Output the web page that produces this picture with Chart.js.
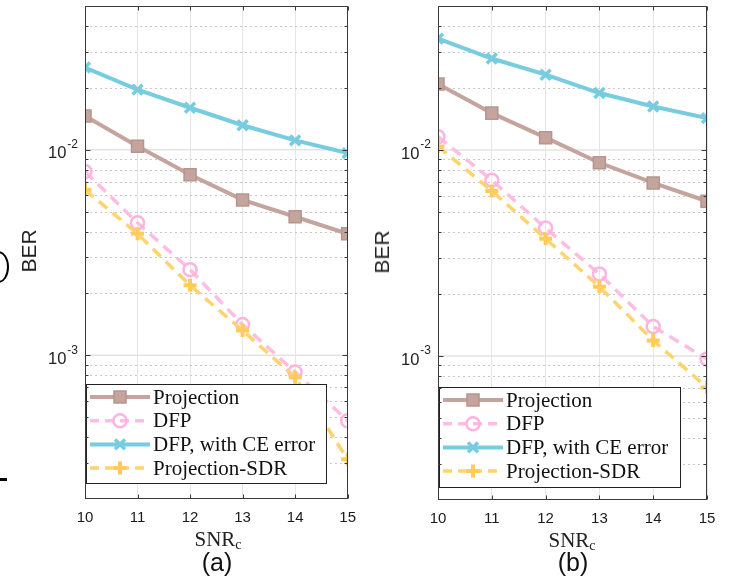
<!DOCTYPE html>
<html>
<head>
<meta charset="utf-8">
<script src="https://cdn.jsdelivr.net/npm/chart.js@4.4.1/dist/chart.umd.min.js"></script>
<style>
  body { margin: 0; background: #fff; width: 731px; height: 583px; position: relative; overflow: hidden; }
  canvas { position: absolute; top: 0; }
  .ber { position: absolute; font: 21px "Liberation Sans", Arial, sans-serif; color: #222;
         transform: translate(-50%, -50%) rotate(-90deg); white-space: nowrap; }
  .snr { position: absolute; font: 21px "Liberation Serif", "Times New Roman", serif; color: #222;
         transform: translate(-50%, -50%); white-space: nowrap; }
  .snr sub { font-size: 14px; vertical-align: -3px; }
  .tag { position: absolute; font: 25px "Liberation Sans", Arial, sans-serif; color: #111;
         transform: translate(-50%, -50%); }
  .crop { position: absolute; background: #000; }
</style>
</head>
<body>
<canvas id="chart-a" width="366" height="583" style="left:0"></canvas>
<canvas id="chart-b" width="365" height="583" style="left:366px"></canvas>

<div class="ber" style="left:29px; top:251px">BER</div>
<div class="ber" style="left:382px; top:252px">BER</div>
<div class="snr" style="left:218px; top:540px">SNR<sub>c</sub></div>
<div class="snr" style="left:572px; top:541px">SNR<sub>c</sub></div>
<div class="tag" style="left:217px; top:562px">(a)</div>
<div class="tag" style="left:573px; top:562px">(b)</div>

<!-- bits of the neighbouring figure cut off at the left edge -->
<div style="position:absolute; left:-12px; top:251px; width:17px; height:28px; border:2.5px solid #000; border-radius:50%;"></div>
<div class="crop" style="left:0; top:478px; width:7px; height:3px"></div>

<script>
const snrValues = [10, 11, 12, 13, 14, 15];

// panel (a)
const projectionA = [0.0146, 0.0104, 0.00755, 0.0057, 0.00472, 0.0039];
const dfpA = [0.00783, 0.00441, 0.00261, 0.00141, 0.000829, 0.00048];
const dfpCeA = [0.0251, 0.0196, 0.0160, 0.01315, 0.0111, 0.00963];
const sdrA = [0.00638, 0.0039, 0.00219, 0.00132, 0.000782, 0.000312];

// panel (b)
const projectionB = [0.0209, 0.0151, 0.01148, 0.00867, 0.00692, 0.00564];
const dfpB = [0.0116, 0.00714, 0.00418, 0.0025, 0.00139, 0.000967];
const dfpCeB = [0.0347, 0.0278, 0.0232, 0.0189, 0.01626, 0.01428];
const sdrB = [0.0104, 0.00633, 0.00371, 0.00217, 0.00119, 0.000703];

const seriesNames = ['Projection', 'DFP', 'DFP, with CE error', 'Projection-SDR'];

const yMin = 2e-4, yMax = 5e-2;
const yMajorValues = [1e-3, 1e-2];
const yMajorExponents = ['-3', '-2'];
const yMinorValues = [3e-4, 4e-4, 5e-4, 6e-4, 7e-4, 8e-4, 9e-4,
  2e-3, 3e-3, 4e-3, 5e-3, 6e-3, 7e-3, 8e-3, 9e-3, 2e-2, 3e-2, 4e-2];

const toPoints = (values) => values.map((v, i) => ({ x: snrValues[i], y: v }));

const makeDatasets = (proj, dfp, dfpCe, sdr) => [
  {
    label: seriesNames[0], data: toPoints(proj), order: 4,
    borderColor: '#c4a59e', borderWidth: 4,
    pointStyle: 'rect', pointRadius: 8.5, pointBorderWidth: 1.5,
    pointBackgroundColor: '#c4a59e', pointBorderColor: '#b5958e'
  },
  {
    label: seriesNames[1], data: toPoints(dfp), order: 3,
    borderColor: '#ffbde3', borderWidth: 3.5, borderDash: [11, 7],
    pointStyle: 'circle', pointRadius: 6.5, pointBorderWidth: 2.5,
    pointBackgroundColor: 'rgba(0,0,0,0)', pointBorderColor: '#ffb3df'
  },
  {
    label: seriesNames[2], data: toPoints(dfpCe), order: 2,
    borderColor: '#78cce0', borderWidth: 4,
    pointStyle: 'crossRot', pointRadius: 7, pointBorderWidth: 3.5,
    pointBackgroundColor: '#78cce0', pointBorderColor: '#78cce0'
  },
  {
    label: seriesNames[3], data: toPoints(sdr), order: 1,
    borderColor: '#ffd36e', borderWidth: 3.5, borderDash: [11, 7],
    pointStyle: 'cross', pointRadius: 6.5, pointBorderWidth: 4,
    pointBackgroundColor: '#ffd36e', pointBorderColor: '#ffcc5c'
  }
];

const drawMarker = (ctx, ds, x, y) => {
  ctx.setLineDash([]);
  ctx.fillStyle = ds.pointBackgroundColor;
  ctx.strokeStyle = ds.pointBorderColor;
  ctx.lineWidth = ds.pointBorderWidth;
  Chart.helpers.drawPoint(ctx, {
    pointStyle: ds.pointStyle, rotation: 0,
    radius: ds.pointRadius, borderWidth: ds.pointBorderWidth
  }, x, y);
};

// MATLAB-like frame: dotted minor grid, inward ticks, box, 10^n labels, legend inside
const matlabFrame = {
  id: 'matlabFrame',
  beforeDatasetsDraw(chart) {
    const { ctx, chartArea: a, scales: { y } } = chart;
    ctx.save();
    ctx.lineWidth = 1;
    ctx.strokeStyle = '#c8c8c8';
    ctx.setLineDash([2, 3]);
    yMinorValues.forEach(v => {
      const py = Math.round(y.getPixelForValue(v)) + 0.5;
      ctx.beginPath(); ctx.moveTo(a.left, py); ctx.lineTo(a.right, py); ctx.stroke();
    });
    ctx.setLineDash([]);
    ctx.strokeStyle = '#e3e3e3';
    ctx.lineWidth = 1.5;
    yMajorValues.forEach(v => {
      const py = y.getPixelForValue(v);
      ctx.beginPath(); ctx.moveTo(a.left, py); ctx.lineTo(a.right, py); ctx.stroke();
    });
    ctx.restore();
  },
  afterDraw(chart, args, opts) {
    const { ctx, chartArea: a, scales: { x, y } } = chart;
    ctx.save();

    // legend
    const box = opts.legendBox;
    ctx.fillStyle = '#fff';
    ctx.fillRect(box.x, box.y, box.w, box.h);
    ctx.strokeStyle = '#222';
    ctx.lineWidth = 1;
    ctx.strokeRect(box.x + 0.5, box.y + 0.5, box.w, box.h);
    chart.data.datasets.forEach((ds, i) => {
      const ry = box.y + 13 + i * 23.7;
      ctx.setLineDash(ds.borderDash ? [9, 6] : []);
      ctx.strokeStyle = ds.borderColor;
      ctx.lineWidth = ds.borderWidth;
      ctx.beginPath(); ctx.moveTo(box.x + 4, ry); ctx.lineTo(box.x + 64, ry); ctx.stroke();
      drawMarker(ctx, ds, box.x + 34, ry);
      ctx.fillStyle = '#111';
      ctx.font = '21px "Liberation Serif", "Times New Roman", serif';
      ctx.textBaseline = 'middle';
      ctx.textAlign = 'left';
      ctx.fillText(ds.label, box.x + 67, ry + 1);
    });

    // box and inward ticks
    ctx.setLineDash([]);
    ctx.strokeStyle = '#3a3a3a';
    ctx.lineWidth = 1;
    const l = Math.round(a.left) + 0.5, r = Math.round(a.right) - 0.5;
    const t = Math.round(a.top) + 0.5, b = Math.round(a.bottom) - 0.5;
    ctx.strokeRect(l, t, r - l, b - t);
    ctx.beginPath();
    snrValues.forEach(v => {
      const px = Math.round(x.getPixelForValue(v)) + 0.5;
      ctx.moveTo(px, b); ctx.lineTo(px, b - 4);
      ctx.moveTo(px, t); ctx.lineTo(px, t + 4);
    });
    yMajorValues.forEach(v => {
      const py = Math.round(y.getPixelForValue(v)) + 0.5;
      ctx.moveTo(l, py); ctx.lineTo(l + 5, py);
      ctx.moveTo(r, py); ctx.lineTo(r - 5, py);
    });
    yMinorValues.forEach(v => {
      const py = Math.round(y.getPixelForValue(v)) + 0.5;
      ctx.moveTo(l, py); ctx.lineTo(l + 3, py);
      ctx.moveTo(r, py); ctx.lineTo(r - 3, py);
    });
    ctx.stroke();

    // y tick labels 10^n
    ctx.fillStyle = '#222';
    ctx.textBaseline = 'middle';
    yMajorValues.forEach((v, i) => {
      const py = y.getPixelForValue(v);
      ctx.font = '12px "Liberation Sans", Arial, sans-serif';
      const expW = ctx.measureText(yMajorExponents[i]).width;
      const right = a.left - 7;
      ctx.textAlign = 'right';
      ctx.fillText(yMajorExponents[i], right, py - 5);
      ctx.font = '16.5px "Liberation Sans", Arial, sans-serif';
      ctx.fillText('10', right - expW - 1, py + 4);
    });
    ctx.restore();
  }
};

const makeChart = (canvasId, datasets, padding, legendBox) => {
  const ctx = document.getElementById(canvasId).getContext('2d');
  return new Chart(ctx, {
    type: 'line',
    data: { datasets },
    options: {
      responsive: false,
      animation: false,
      layout: { padding, autoPadding: false },
      plugins: {
        legend: { display: false },
        tooltip: { enabled: false },
        matlabFrame: { legendBox }
      },
      scales: {
        x: {
          type: 'linear', min: 10, max: 15,
          ticks: {
            stepSize: 1, padding: 10, color: '#1a1a1a',
            font: { family: '"Liberation Sans", Arial, sans-serif', size: 15 }
          },
          grid: { color: '#e6e6e6', drawTicks: false },
          border: { display: false }
        },
        y: {
          type: 'logarithmic', min: yMin, max: yMax,
          display: false
        }
      }
    },
    plugins: [matlabFrame]
  });
};

makeChart('chart-a', makeDatasets(projectionA, dfpA, dfpCeA, sdrA),
  { left: 85, right: 14, top: 6, bottom: 46 },
  { x: 86, y: 384, w: 240, h: 99 });

makeChart('chart-b', makeDatasets(projectionB, dfpB, dfpCeB, sdrB),
  { left: 72, right: 24, top: 6, bottom: 45 },
  { x: 73, y: 387, w: 241, h: 100 });
</script>
</body>
</html>
